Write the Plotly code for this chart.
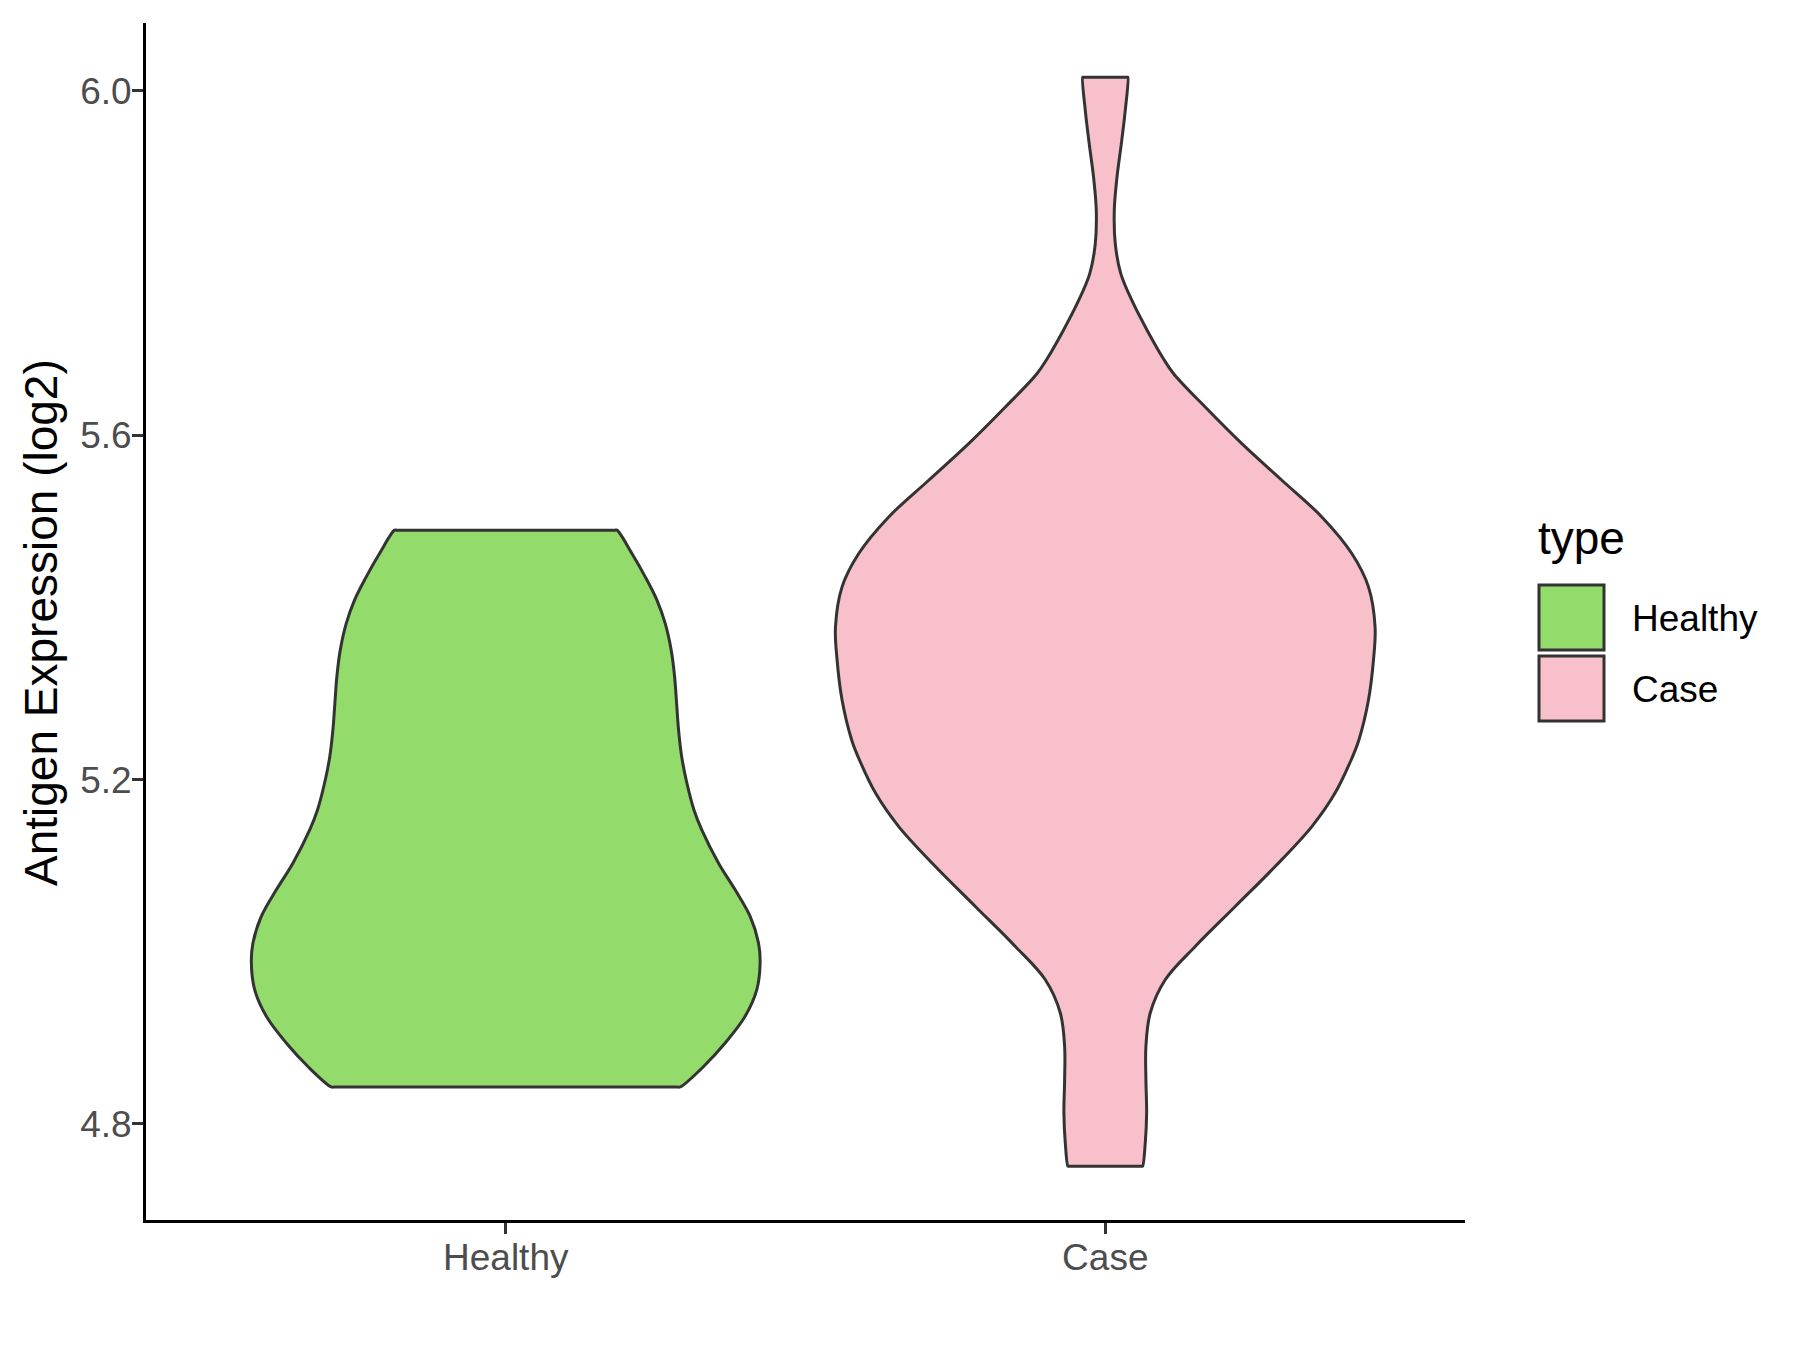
import plotly.graph_objects as go

# ---- data ----
categories = ["Healthy", "Case"]
positions = [1, 2]
fill_colors = ["#93DB6B", "#F7C0CB"]

# violin outline: y value (top -> bottom) and half-width (in category units)
healthy_y = [5.4896, 5.4625, 5.4354, 5.4084, 5.3813, 5.3503, 5.3194, 5.2885,
             5.2575, 5.2266, 5.1995, 5.1647, 5.1415, 5.1029, 5.0719, 5.041,
             5.010, 4.9869, 4.956, 4.925, 4.894, 4.8667, 4.843]
healthy_hw = [0.1855, 0.2105, 0.2327, 0.2522, 0.266, 0.276, 0.2817, 0.285,
              0.2883, 0.2935, 0.301, 0.314, 0.327, 0.355, 0.3827, 0.4077,
              0.4217, 0.4243, 0.4188, 0.3993, 0.366, 0.330, 0.291]

case_y = [6.0155, 5.9768, 5.938, 5.8994, 5.8608, 5.822, 5.7873, 5.7526, 5.7216,
          5.6887, 5.6713, 5.6326, 5.5901, 5.5476, 5.505, 5.4625, 5.4238, 5.3774,
          5.3387, 5.2923, 5.246, 5.2227, 5.184, 5.1454, 5.099, 5.0526, 5.0062,
          4.9675, 4.9289, 4.8902, 4.8515, 4.8129, 4.778, 4.751]
case_hw = [0.0378, 0.0333, 0.0267, 0.0195, 0.0150, 0.0167, 0.026, 0.047, 0.070,
           0.097, 0.114, 0.1667, 0.2278, 0.2945, 0.3612, 0.4112, 0.439, 0.450,
           0.4473, 0.439, 0.423, 0.410, 0.383, 0.3445, 0.2833, 0.2167, 0.150,
           0.100, 0.075, 0.0678, 0.0678, 0.069, 0.0667, 0.0623]

y_ticks = [4.8, 5.2, 5.6, 6.0]
y_range = [4.6885, 6.0786]
x_range = [0.4, 2.6]
y_title = "Antigen Expression (log2)"
legend_title = "type"

series_y = [healthy_y, case_y]
series_hw = [healthy_hw, case_hw]


def outline(pos, ys, hws):
    """Closed violin outline; small insets on the flat ends keep the corners crisp."""
    k = 0.98
    xs, yy = [], []
    xs.append(pos + hws[0] * k); yy.append(ys[0])
    for y, h in zip(ys, hws):
        xs.append(pos + h); yy.append(y)
    xs.append(pos + hws[-1] * k); yy.append(ys[-1])
    xs.append(pos - hws[-1] * k); yy.append(ys[-1])
    for y, h in zip(reversed(ys), reversed(hws)):
        xs.append(pos - h); yy.append(y)
    xs.append(pos - hws[0] * k); yy.append(ys[0])
    xs.append(pos + hws[0] * k); yy.append(ys[0])
    return xs, yy


fig = go.Figure()
for name, pos, col, ys, hws in zip(categories, positions, fill_colors, series_y, series_hw):
    xs, yy = outline(pos, ys, hws)
    fig.add_trace(go.Scatter(
        x=xs, y=yy, mode="lines", fill="toself", fillcolor=col,
        line=dict(color="#333333", width=3, shape="spline", smoothing=1.0),
        name=name, showlegend=False, hoverinfo="skip"))

FONT = "Liberation Sans, Arial, sans-serif"

# page geometry (the page body adds an 8px offset)
OFF = 8
W, H = 1800 - OFF, 1350 - OFF
PL, PR, PT, PB = 146, 1465, 23, 1220          # plot area on the page
L, T = PL - OFF, PT - OFF
pw, ph = PR - PL, PB - PT
R, B = W - L - pw, H - T - ph


def px(xp):
    return (xp - PL) / pw


def py(yp):
    return (PB - yp) / ph


fig.update_layout(
    width=W, height=H, autosize=False,
    margin=dict(l=L, r=R, t=T, b=B),
    paper_bgcolor="white", plot_bgcolor="white",
    showlegend=False,
    xaxis=dict(range=x_range, tickvals=positions, ticktext=categories,
               showgrid=False, zeroline=False, showline=True, linecolor="black",
               linewidth=3, ticks="outside", ticklen=11, tickwidth=3,
               tickcolor="#333333", automargin=False, ticklabelstandoff=-8,
               tickfont=dict(family=FONT, size=37, color="#4d4d4d")),
    yaxis=dict(range=y_range, tickvals=y_ticks, tickformat=".1f",
               showgrid=False, zeroline=False, showline=True, linecolor="black",
               linewidth=3, ticks="outside", ticklen=11, tickwidth=3,
               tickcolor="#333333", automargin=False, ticklabelstandoff=-7,
               tickfont=dict(family=FONT, size=37, color="#4d4d4d")),
)

# y-axis title as rotated text
fig.add_annotation(x=px(41), y=py(623), xref="paper", yref="paper",
                   text=y_title, textangle=-90, showarrow=False,
                   xanchor="center", yanchor="middle",
                   font=dict(family=FONT, size=46, color="black"))

# legend drawn as layout shapes + text
fig.add_annotation(x=px(1536), y=py(538), xref="paper", yref="paper",
                   text=legend_title, showarrow=False, xanchor="left", yanchor="middle",
                   font=dict(family=FONT, size=46, color="black"))
key_tops = [585, 656]
for name, col, top in zip(categories, fill_colors, key_tops):
    fig.add_shape(type="rect", xref="paper", yref="paper",
                  x0=px(1539), x1=px(1604), y0=py(top), y1=py(top + 65),
                  fillcolor=col, line=dict(color="#333333", width=3))
    fig.add_annotation(x=px(1630), y=py(top + 33), xref="paper", yref="paper",
                       text=name, showarrow=False, xanchor="left", yanchor="middle",
                       font=dict(family=FONT, size=37, color="black"))

fig.write_html("out.html")
